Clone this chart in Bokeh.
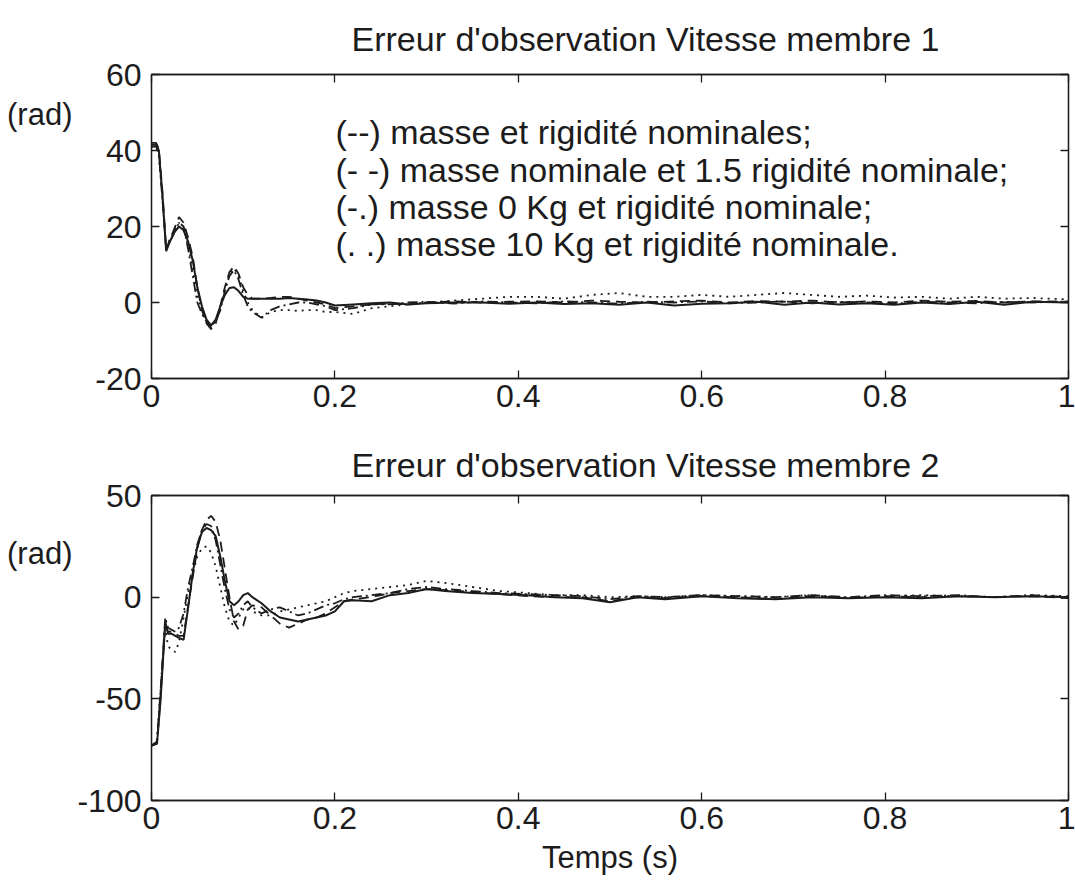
from bokeh.plotting import figure
from bokeh.models import Range1d, LinearAxis, FixedTicker, ColumnDataSource, Title
from bokeh.layouts import column, row
from bokeh.embed import file_html
from bokeh.resources import INLINE
from bokeh.core.properties import value

FONT = "Liberation Sans"
INK = "#1c1c1c"

# ---------------- data ----------------
title_1 = "Erreur d'observation Vitesse membre 1"
title_2 = "Erreur d'observation Vitesse membre 2"
y_unit = "(rad)"
x_label = "Temps (s)"
legend_labels = [
    "(--)  masse et rigidité nominales;",
    "(- -) masse nominale et 1.5 rigidité nominale;",
    "(-.)  masse 0 Kg et rigidité nominale;",
    "(. .) masse 10 Kg et rigidité nominale.",
]
x_ticks = [0, 0.2, 0.4, 0.6, 0.8, 1.0]
x_tick_labels = ["0", "0.2", "0.4", "0.6", "0.8", "1"]
y_ticks_1 = [-20, 0, 20, 40, 60]
y_ticks_2 = [-100, -50, 0, 50]

t1 = [0, 0.005, 0.008, 0.012, 0.016, 0.02, 0.025, 0.03, 0.035, 0.04,
      0.045, 0.05, 0.055, 0.06, 0.065, 0.07, 0.075, 0.08, 0.085, 0.09,
      0.095, 0.1, 0.105, 0.11, 0.12, 0.13, 0.14, 0.15, 0.16, 0.17,
      0.18, 0.19, 0.2, 0.22, 0.24, 0.26, 0.28, 0.3, 0.33, 0.36,
      0.39, 0.42, 0.45, 0.48, 0.51, 0.54, 0.57, 0.6, 0.63, 0.66,
      0.69, 0.72, 0.75, 0.78, 0.81, 0.84, 0.87, 0.9, 0.93, 0.96, 1.0]
solid_1 = [41.5, 41.5, 40, 28, 13.5, 16, 18.5, 20, 19, 16,
           11, 4, -1, -4.5, -6, -4.5, -1, 2, 3.8, 4,
           3, 1.5, 1, 1, 1, 1, 1, 1.2, 1, 0.8,
           0.5, 0, -0.8, -0.5, -0.2, 0, -0.5, -0.2, 0, 0,
           -0.3, 0, -0.4, -0.2, -0.6, 0, -0.8, -0.3, -0.2, 0.2,
           -0.6, 0, -0.5, -0.2, -0.6, 0, -0.4, 0.2, -0.6, 0.2, 0]
dashed_1 = [42, 42, 40.5, 29, 14, 16.5, 19.5, 22.5, 21, 17,
            12, 4, -2, -5.5, -7, -5.5, -1, 4, 8, 9.5,
            7.5, 4, 2, 1, 1, 1.2, 1.5, 1.5, 1, 0.5,
            0, -0.5, -1.5, -1, -0.5, -0.3, -0.5, 0, 0.3, 0,
            0.2, 0.3, 0, 0.5, 0.2, 0, 0.3, 0.5, 0, 0.4,
            0.2, 0.5, 0, 0.3, 0, 0.5, 0.2, 0.4, 0, 0.3, 0.2]
dashdot_1 = [41, 41, 39.5, 27, 14, 16, 18.5, 21, 20, 14,
             7, 0, -3, -5, -6.5, -5, -2, 3, 7, 8.5,
             6, 2, -1, -2.5, -4, -2, -1, -0.5, 0, 0,
             -0.5, -1, -2, -1.5, -0.5, -0.5, 0, 0.2, -0.3, 0.3,
             0, -0.2, 0.3, 0, -0.3, 0.2, 0, 0.3, -0.2, 0,
             0.3, -0.2, 0.2, 0, -0.3, 0.2, 0, -0.2, 0.2, 0, 0.3]
dotted_1 = [41, 41, 39, 27, 14.5, 16.5, 19, 21, 19.5, 15,
            9, 2, -2.5, -5, -6, -5, -1.5, 3.5, 7.5, 9,
            7, 3, 0, -2, -4, -2.5, -2, -2, -2.2, -2,
            -2, -2.5, -2.5, -3, -1.5, -1, -0.5, 0, 0.5, 1,
            1.5, 1.5, 1, 2, 2.5, 1.5, 1.5, 2, 1.5, 2,
            2.5, 2, 1.5, 1.8, 1.3, 1.5, 1, 1.5, 1, 1.2, 0.8]

t2 = [0, 0.006, 0.01, 0.015, 0.018, 0.022, 0.026, 0.03, 0.035, 0.04,
      0.045, 0.05, 0.055, 0.06, 0.065, 0.07, 0.075, 0.08, 0.085, 0.09,
      0.095, 0.1, 0.105, 0.11, 0.12, 0.13, 0.14, 0.15, 0.16, 0.17,
      0.18, 0.19, 0.2, 0.21, 0.22, 0.24, 0.26, 0.28, 0.3, 0.32,
      0.35, 0.38, 0.41, 0.44, 0.47, 0.5, 0.53, 0.56, 0.6, 0.64,
      0.68, 0.72, 0.76, 0.8, 0.84, 0.88, 0.92, 0.96, 1.0]
solid_2 = [-73, -72, -50, -12, -18, -18, -19, -20, -21, -5,
           12, 25, 32, 34, 33, 30, 20, 8, -2, -4,
           -2, 1, 2, 0, -3, -7, -10, -11, -12, -11,
           -10, -9, -7, -2, -1.5, -2, 1, 2, 4, 3,
           2, 1.5, 1, 0, -0.5, -2.5, 0, -1, 0.5, -0.5,
           -1, 0, -0.5, 0, -0.5, 0.5, 0, 0.5, 0]
dashed_2 = [-73, -72, -48, -13, -17, -17, -18, -19, -19, -4,
            10, 24, 33, 38, 40, 37, 28, 14, 0, -12,
            -16, -14, -6, -4, -5, -9, -13, -15, -13, -11,
            -10, -8, -5, -2, -1, 0, 2, 3, 4, 3.5,
            2.5, 1.5, 0.5, 0, 0, -2, 0, -0.5, 0.5, 0,
            -1, 0.5, -0.5, 0.5, 0, 0.5, 0, 0.5, -0.5]
dashdot_2 = [-73, -71, -45, -10, -15, -16, -17, -15, -8, 5,
             15, 26, 33, 36, 35, 28, 16, 4, -6, -10,
             -8, -4, -2, -5, -8, -6, -5, -7, -9, -8,
             -6, -4, -3, -1, 0, 1, 2, 4, 5, 4,
             3, 2, 1.5, 1, 0.5, -1, 0.5, 0, 1, 0.5,
             0, 1, 0, 1, 0.5, 1, 0, 1, 0]
dotted_2 = [-73, -70, -45, -15, -24, -26, -27, -22, -10, 2,
            12, 20, 24, 25, 22, 15, 5, -5, -12, -14,
            -10, -6, -5, -7, -9, -9, -7, -6, -5, -4,
            -3, -2, 0, 2, 3, 4, 5, 6, 8, 7,
            5, 3, 2, 1, 1, 0, 0.5, 0, 1, 0.5,
            0, 1, -0.5, 0.5, 1, 0.5, 0, 1, 0.5]

SIDE_W = 74
MAIN_W = 1075 - SIDE_W
TICK_FS = "32px"


def style_axis(ax, show_labels, ticks, overrides=None):
    ax.ticker = FixedTicker(ticks=ticks)
    ax.major_tick_in = 8
    ax.major_tick_out = 0
    ax.minor_tick_line_color = None
    ax.major_tick_line_color = INK
    ax.major_tick_line_width = 1.3
    ax.axis_line_color = INK
    ax.axis_line_width = 1.3
    ax.major_label_text_font = FONT
    if overrides:
        ax.major_label_overrides = overrides
    if show_labels:
        ax.major_label_text_font_size = TICK_FS
        ax.major_label_text_color = INK
    else:
        ax.major_label_text_font_size = "1px"
        ax.major_label_text_color = None
        ax.major_label_standoff = 0


def make_fig(height, yr, yticks, top_border, bottom_border, t, series, title, title_standoff):
    p = figure(width=MAIN_W, height=height, output_backend="svg", toolbar_location=None,
               x_range=Range1d(0, 1), y_range=Range1d(*yr),
               min_border_left=77, min_border_right=7,
               min_border_top=top_border, min_border_bottom=bottom_border)
    p.title = Title(text=title, align="left", offset=200, text_font=FONT,
                    text_font_size="34px", text_font_style="normal", text_color=INK,
                    standoff=title_standoff)
    p.xgrid.visible = False
    p.ygrid.visible = False
    p.outline_line_color = INK
    p.outline_line_width = 1.3
    p.background_fill_color = "white"
    p.border_fill_color = "white"
    xo = {tk: lab for tk, lab in zip(x_ticks, x_tick_labels)}
    bottom_axis = p.xaxis[0]
    style_axis(bottom_axis, True, x_ticks, xo)
    bottom_axis.major_label_standoff = 6
    style_axis(p.yaxis[0], True, yticks, {v: str(v) for v in yticks})
    p.yaxis[0].major_label_standoff = 10
    top = LinearAxis()
    style_axis(top, False, x_ticks)
    p.add_layout(top, "above")
    right = LinearAxis()
    style_axis(right, False, yticks)
    p.add_layout(right, "right")

    s, d, dd, o = series
    src = ColumnDataSource(dict(t=t, s=s, d=d, dd=dd, o=o))
    p.line("t", "o", source=src, line_color=INK, line_width=1.8, line_dash="2 5")
    p.line("t", "dd", source=src, line_color=INK, line_width=1.8, line_dash="10 4 2 4")
    p.line("t", "d", source=src, line_color=INK, line_width=1.8, line_dash="10 6")
    p.line("t", "s", source=src, line_color=INK, line_width=2.0)
    return p, bottom_axis


def make_side(height, y_range, y_text):
    # narrow companion figure; its frame lines up with the main frame,
    # so it shares the main figure's y range
    s = figure(width=SIDE_W, height=height, output_backend="svg", toolbar_location=None,
               x_range=Range1d(0, SIDE_W), y_range=y_range,
               x_axis_type=None, y_axis_type=None, min_border=0)
    s.outline_line_color = None
    s.background_fill_color = "white"
    s.border_fill_color = "white"
    s.text(x=[SIDE_W - 2], y=[y_text], text=[y_unit], text_font=value(FONT),
           text_font_size="31px", text_align="right", text_baseline="middle",
           text_color=INK)
    return s


H1, H2 = 430, 465
p1, ax1 = make_fig(H1, (-20, 60), y_ticks_1, 73, 52, t1,
                   (solid_1, dashed_1, dashdot_1, dotted_1), title_1, 34)
p2, ax2 = make_fig(H2, (-100, 50), y_ticks_2, 65, 95, t2,
                   (solid_2, dashed_2, dashdot_2, dotted_2), title_2, 24)

# legend text block
leg_src = ColumnDataSource(dict(x=[0.2007] * 4, y=[44.9, 34.9, 25.2, 15.5], text=legend_labels))
p1.text("x", "y", text="text", source=leg_src, text_font=value(FONT), text_font_size="34px",
        text_baseline="middle", text_align="left", text_color=INK)

ax2.axis_label = x_label
ax2.axis_label_text_font = FONT
ax2.axis_label_text_font_size = "31px"
ax2.axis_label_text_font_style = "normal"
ax2.axis_label_text_color = INK
ax2.axis_label_standoff = 8

side1 = make_side(H1, p1.y_range, 49.6)
side2 = make_side(H2, p2.y_range, 21.6)

layout = column(row(side1, p1, spacing=0), row(side2, p2, spacing=0), spacing=0)
open("out.html", "w").write(file_html(layout, INLINE))
